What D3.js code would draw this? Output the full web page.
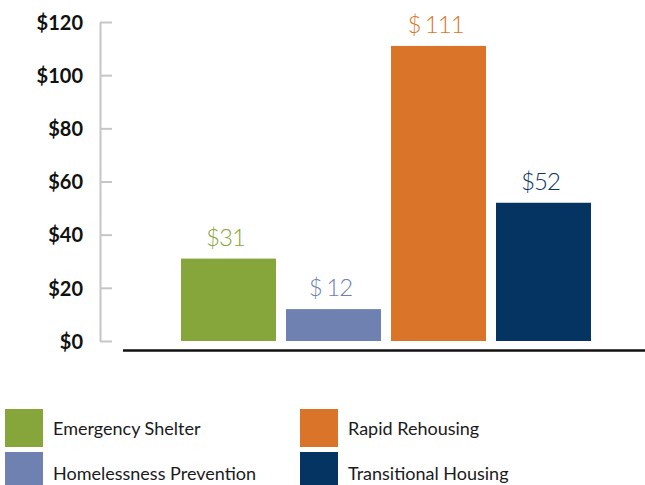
<!DOCTYPE html>
<html>
<head>
<meta charset="utf-8">
<script src="https://cdn.jsdelivr.net/npm/d3@7"></script>
<style>
  html, body { margin: 0; padding: 0; background: #fff; }
  svg { display: block; }
</style>
</head>
<body>
<svg id="chart" width="645" height="485"></svg>
<script>
const categories = ["Emergency Shelter", "Homelessness Prevention", "Rapid Rehousing", "Transitional Housing"];
const values = [31, 12, 111, 52];
const valueLabels = ["$31", "$ 12", "$ 111", "$52"];
const colors = ["#86a53a", "#6e81b1", "#d97428", "#063462"];
const yTicks = [0, 20, 40, 60, 80, 100, 120];
const yTickLabels = ["$0", "$20", "$40", "$60", "$80", "$100", "$120"];

const svg = d3.select("#chart");

const x = d3.scaleBand()
  .domain(categories)
  .range([176, 596])
  .paddingInner(10 / 105)
  .paddingOuter(5 / 105);

const y = d3.scaleLinear().domain([0, 120]).range([341, 22]);

// Y axis
const yAxis = d3.axisRight(y)
  .tickValues(yTicks)
  .tickSize(12)
  .tickSizeOuter(0)
  .tickFormat((d, i) => yTickLabels[i]);

const gy = svg.append("g").attr("transform", "translate(100,0)").call(yAxis);
gy.select(".domain").attr("stroke", "#c6c6c6").attr("stroke-width", 2);
gy.selectAll(".tick line").attr("stroke", "#c6c6c6").attr("stroke-width", 2);
gy.selectAll(".tick text")
  .attr("x", -17)
  .attr("dy", "0.36em")
  .attr("text-anchor", "end")
  .attr("fill", "#111")
  .style("font-family", "Lato, 'Open Sans', sans-serif")
  .style("font-weight", "bold")
  .style("font-size", "20px");

// Bars
svg.append("g").selectAll("rect")
  .data(values)
  .join("rect")
  .attr("x", (d, i) => x(categories[i]))
  .attr("y", d => y(d))
  .attr("width", x.bandwidth())
  .attr("height", d => y(0) - y(d))
  .attr("fill", (d, i) => colors[i]);

// Value labels
svg.append("g").selectAll("text")
  .data(values)
  .join("text")
  .attr("x", (d, i) => x(categories[i]) + x.bandwidth() / 2 - 3)
  .attr("y", d => y(d) - 13)
  .attr("text-anchor", "middle")
  .attr("fill", (d, i) => colors[i])
  .style("font-family", "Lato, 'Open Sans', sans-serif")
  .style("font-weight", "300")
  .style("font-size", "24px")
  .style("letter-spacing", "-1px")
  .style("word-spacing", "-1px")
  .text((d, i) => valueLabels[i]);

// Baseline
svg.append("line")
  .attr("x1", 123).attr("x2", 645)
  .attr("y1", 350.5).attr("y2", 350.5)
  .attr("stroke", "#111")
  .attr("stroke-width", 2.5);

// Legend
const legendPos = [[5, 409], [5, 452], [300, 409], [300, 452]];
const lg = svg.append("g").selectAll("g")
  .data(categories)
  .join("g")
  .attr("transform", (d, i) => `translate(${legendPos[i][0]},${legendPos[i][1]})`);
lg.append("rect")
  .attr("width", 38).attr("height", 38)
  .attr("fill", (d, i) => colors[i]);
lg.append("text")
  .attr("x", 48)
  .attr("y", (d, i) => i % 2 === 0 ? 26 : 28)
  .attr("fill", "#1a1a1a")
  .style("font-family", "Lato, 'Open Sans', sans-serif")
  .style("font-size", "18px")
  .text(d => d);
</script>
</body>
</html>
